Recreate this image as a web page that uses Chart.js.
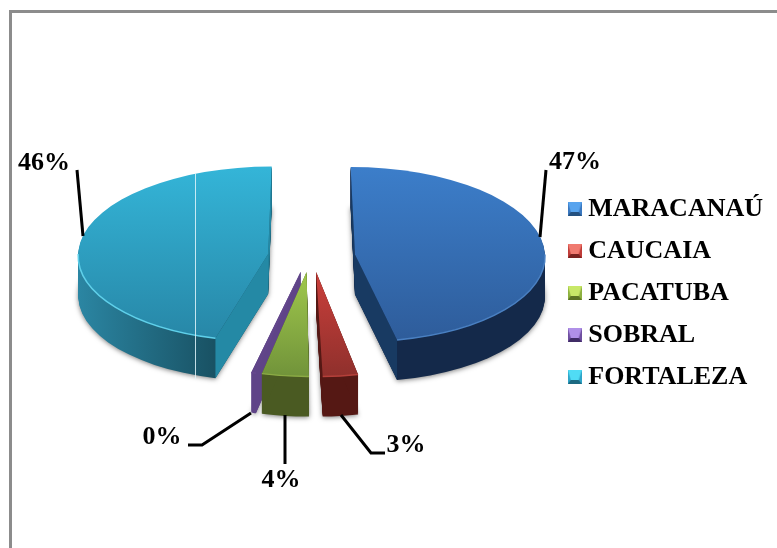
<!DOCTYPE html>
<html>
<head>
<meta charset="utf-8">
<style>
  html, body { margin: 0; background: #fff; overflow: hidden; }
  #frame { position: absolute; left: 9px; top: 10px; width: 800px; height: 600px; border: 3px solid #8c8c8c; }
  canvas { position: absolute; left: 0; top: 0; }
</style>
</head>
<body>
<div id="frame"></div>
<canvas id="graph" width="777" height="548"></canvas>
<script src="https://cdn.jsdelivr.net/npm/chart.js@4"></script>
<script>
const cities = ["MARACANAÚ", "CAUCAIA", "PACATUBA", "SOBRAL", "FORTALEZA"];
const shares = [47, 3, 4, 0.4, 46];

const topLight = ["#3c7eca", "#cb3f3b", "#a0c84c", "#67488f", "#34b5d8"];
const topDark = ["#2e5c9a", "#8f302c", "#71933a", "#5f4488", "#2786a6"];
const wallLeft = ["#1a3d66", "#551814", "#4c5c24", "#5f4488", "#2b86a3"];
const wallRight = ["#14294a", "#551814", "#4a5a22", "#5f4488", "#195264"];
const cutColor = ["#183a62", "#551814", "#4a5a22", "#5f4488", "#2489a5"];
const rimColor = ["#4a80c2", "#b5403a", "#8cab45", "#67488f", "#5fd0ea"];
const markerMid = ["#3a78c0", "#c03c38", "#8db040", "#6f4fa0", "#2fa5c8"];
const markerLight = ["#58a4ee", "#f07a70", "#c8e868", "#b090e8", "#50dcf5"];
const markerDark = ["#24507f", "#7a2220", "#5c7424", "#402c66", "#1c6a82"];

// how the flat pie is laid into the 3d view
const pieX = 311.5;
const pieY = 256;
const explode = 43.7;
const explodeTilt = 0.37;
const tilt = [0.46, 0.55, 0.55, 0.55, 0.46];
const lean = [0.05, 0.04, 0, 0, -0.04];
const depth = 40;

// percent labels with their leader lines
const labelSpots = [
  { x: 575, y: 162, line: [[546, 170], [540, 237]] },
  { x: 406, y: 445, line: [[341, 415], [371, 453], [385, 453]] },
  { x: 281, y: 480, line: [[285, 415], [285, 464]] },
  { x: 162, y: 437, line: [[251, 413], [202, 445], [188, 445]] },
  { x: 44, y: 163, line: [[77, 170], [83, 236]] }
];

function makeMarker(i) {
  const c = document.createElement("canvas");
  c.width = 14;
  c.height = 14;
  const g = c.getContext("2d");
  g.fillStyle = markerMid[i];
  g.fillRect(0, 0, 14, 14);
  g.fillStyle = markerLight[i];
  g.beginPath();
  g.moveTo(0, 0); g.lineTo(14, 0); g.lineTo(11, 10); g.lineTo(3, 10);
  g.fill();
  g.fillStyle = markerDark[i];
  g.beginPath();
  g.moveTo(0, 14); g.lineTo(14, 14); g.lineTo(11, 10); g.lineTo(3, 10);
  g.fill();
  return c;
}

const pie3d = {
  id: "pie3d",
  beforeDatasetsDraw(chart) {
    const ctx = chart.ctx;
    const arcs = chart.getDatasetMeta(0).data;
    const total = shares.reduce((a, b) => a + b, 0);
    const order = [4, 0, 3, 2, 1];

    order.forEach((i) => {
      const arc = arcs[i];
      const r = arc.outerRadius;
      const s = tilt[i];
      const k = lean[i];
      const mid = (arc.startAngle + arc.endAngle) / 2;
      const ox = pieX + Math.cos(mid) * explode;
      const oy = pieY + Math.sin(mid) * explode * explodeTilt;
      const saved = arc.options;

      const place = (dy) => {
        ctx.translate(ox, oy + dy);
        ctx.transform(1, 0, k, 1, 0, 0);
        ctx.scale(1, s);
        ctx.translate(-arc.x, -arc.y);
      };

      // side wall: stacked copies of the slice
      const wall = ctx.createLinearGradient(arc.x - r, 0, arc.x - r * 0.27, 0);
      wall.addColorStop(0, wallLeft[i]);
      wall.addColorStop(1, wallRight[i]);
      arc.options = Object.assign({}, saved, { backgroundColor: wall, borderWidth: 0 });
      for (let d = depth; d > 0; d--) {
        ctx.save();
        if (d === depth) {
          ctx.shadowColor = "rgba(0,0,0,0.5)";
          ctx.shadowBlur = 5;
          ctx.shadowOffsetY = 1;
        }
        place(d);
        arc.draw(ctx);
        ctx.restore();
      }

      // cut faces
      ctx.fillStyle = cutColor[i];
      [arc.startAngle, arc.endAngle].forEach((a) => {
        const ey = Math.sin(a) * r * s;
        const ex = Math.cos(a) * r + k * ey;
        ctx.beginPath();
        ctx.moveTo(ox, oy);
        ctx.lineTo(ox + ex, oy + ey);
        ctx.lineTo(ox + ex, oy + ey + depth);
        ctx.lineTo(ox, oy + depth);
        ctx.closePath();
        ctx.fill();
      });

      // top face
      const big = arc.circumference > Math.PI / 2;
      const face = ctx.createLinearGradient(0, arc.y - (big ? r : 0), 0, arc.y + r);
      face.addColorStop(0, topLight[i]);
      face.addColorStop(1, topDark[i]);
      arc.options = Object.assign({}, saved, { backgroundColor: face, borderWidth: 0 });
      ctx.save();
      place(0);
      arc.draw(ctx);
      ctx.restore();
      arc.options = saved;

      // lit rim on the near side
      const rimFrom = Math.max(arc.startAngle, 0);
      const rimTo = Math.min(arc.endAngle, Math.PI);
      if (rimFrom < rimTo) {
        ctx.save();
        ctx.translate(ox, oy);
        ctx.transform(1, 0, k, 1, 0, 0);
        ctx.strokeStyle = rimColor[i];
        ctx.lineWidth = 1.5;
        ctx.beginPath();
        ctx.ellipse(0, 0, r, r * s, 0, rimFrom, rimTo);
        ctx.stroke();
        ctx.restore();
      }
    });

    // pale seam across the FORTALEZA slice
    ctx.strokeStyle = "rgba(225,245,250,0.85)";
    ctx.lineWidth = 1;
    ctx.beginPath();
    ctx.moveTo(195.5, 173);
    ctx.lineTo(195.5, 379);
    ctx.stroke();

    // leader lines and percent labels
    ctx.strokeStyle = "#000";
    ctx.lineWidth = 3;
    ctx.fillStyle = "#000";
    ctx.font = "bold 26px 'Liberation Serif'";
    ctx.textAlign = "center";
    ctx.textBaseline = "middle";
    labelSpots.forEach((spot, i) => {
      ctx.beginPath();
      spot.line.forEach((p, n) => (n ? ctx.lineTo(p[0], p[1]) : ctx.moveTo(p[0], p[1])));
      ctx.stroke();
      ctx.fillText(Math.round((shares[i] / total) * 100) + "%", spot.x, spot.y);
    });
    return false;
  }
};

new Chart(document.getElementById("graph"), {
  type: "pie",
  plugins: [pie3d],
  data: {
    labels: cities,
    datasets: [{
      data: shares,
      backgroundColor: topLight,
      borderWidth: 0,
      radius: 190
    }]
  },
  options: {
    responsive: false,
    animation: false,
    layout: { padding: { left: 55, top: 38, right: 4, bottom: 0 } },
    plugins: {
      tooltip: { enabled: false },
      legend: {
        position: "right",
        onClick: null,
        labels: {
          usePointStyle: true,
          pointStyleWidth: 1,
          boxWidth: 14,
          boxHeight: 14,
          padding: 16,
          color: "#000",
          font: { family: "'Liberation Serif'", size: 26, weight: "bold" },
          generateLabels: () => cities.map((name, i) => ({
            text: name,
            fontColor: "#000",
            pointStyle: makeMarker(i),
            lineWidth: 0,
            index: i
          }))
        }
      }
    }
  }
});
</script>
</body>
</html>
